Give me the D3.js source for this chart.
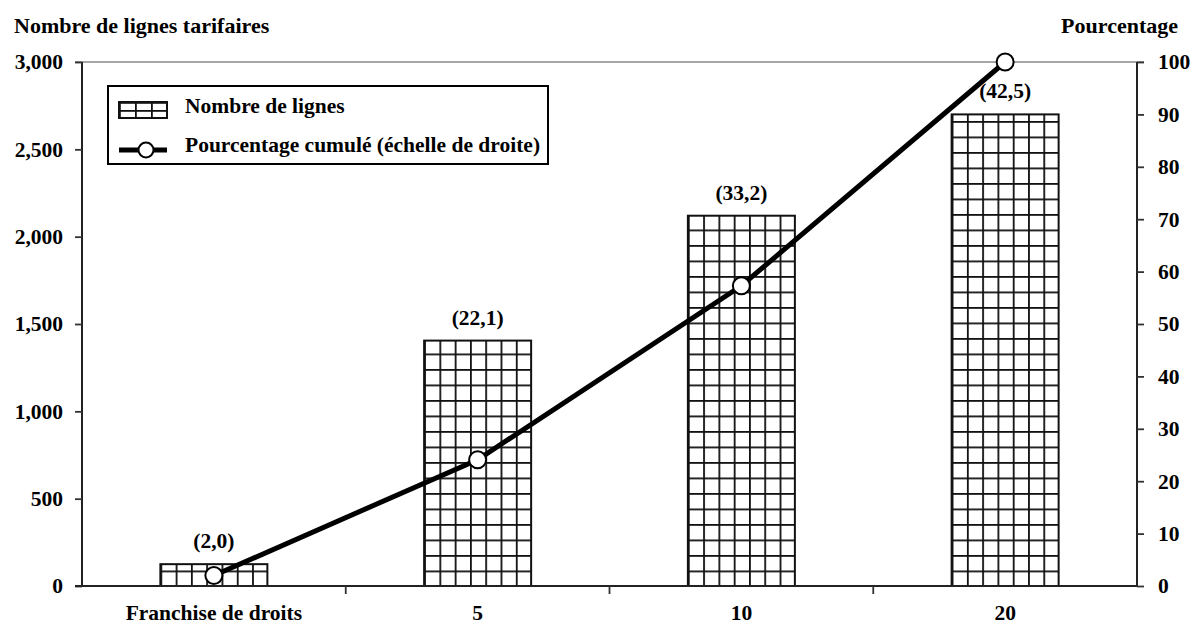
<!DOCTYPE html>
<html><head><meta charset="utf-8">
<script src="https://cdn.jsdelivr.net/npm/d3@7"></script>
<style>body{margin:0;background:#fff}svg text{font-family:"Liberation Serif","Times New Roman",serif;font-weight:bold;fill:#000}</style>
</head><body><svg id="c" width="1193" height="628"></svg>
<script>
const categories = ["Franchise de droits", "5", "10", "20"];
const lignes = [125, 1405, 2120, 2700];
const cumul = [2.0, 24.1, 57.3, 100];
const labels = ["(2,0)", "(22,1)", "(33,2)", "(42,5)"];
const leftTicks = [0, 500, 1000, 1500, 2000, 2500, 3000];
const rightTicks = [0,10,20,30,40,50,60,70,80,90,100];

const svg = d3.select("#c");
const L = 82, R = 1137, T = 62, B = 586;
const FS = 21.5;
const x = d3.scaleBand().domain(categories).range([L, R]);
const yL = d3.scaleLinear().domain([0, 3000]).range([B, T]);
const yR = d3.scaleLinear().domain([0, 100]).range([B, T]);
const barW = 107, cellW = barW / 7, cellH = 15.5;

const defs = svg.append("defs");
function makePattern(id, px, py, w, h) {
  const p = defs.append("pattern").attr("id", id).attr("patternUnits", "userSpaceOnUse")
    .attr("x", px).attr("y", py).attr("width", w).attr("height", h);
  p.append("rect").attr("width", w).attr("height", h).attr("fill", "#fff");
  p.append("line").attr("x1", 0).attr("x2", 0).attr("y1", 0).attr("y2", h).attr("stroke", "#111").attr("stroke-width", 3.6);
  p.append("line").attr("x1", 0).attr("x2", w).attr("y1", 0).attr("y2", 0).attr("stroke", "#111").attr("stroke-width", 3.6);
}

// top border
svg.append("line").attr("x1", L - 7).attr("x2", R + 7).attr("y1", T).attr("y2", T).attr("stroke", "#888").attr("stroke-width", 1.5);

// bars
categories.forEach((c, i) => {
  const bx = x(c) + x.bandwidth() / 2 - barW / 2;
  makePattern("pat" + i, bx, B, cellW, cellH);
  svg.append("rect").attr("x", bx).attr("y", yL(lignes[i])).attr("width", barW).attr("height", B - yL(lignes[i]))
    .attr("fill", `url(#pat${i})`).attr("stroke", "#111").attr("stroke-width", 2);
  svg.append("text").attr("x", x(c) + x.bandwidth() / 2).attr("y", yL(lignes[i]) - 16)
    .attr("text-anchor", "middle").attr("font-size", FS).text(labels[i]);
});

// axes
const axL = svg.append("g").attr("transform", `translate(${L},0)`).call(d3.axisLeft(yL).tickValues(leftTicks).tickSize(7).tickPadding(12).tickFormat(d3.format(",")));
const axR = svg.append("g").attr("transform", `translate(${R},0)`).call(d3.axisRight(yR).tickValues(rightTicks).tickSize(7).tickPadding(14));
const axB = svg.append("g").attr("transform", `translate(0,${B})`).call(d3.axisBottom(x).tickSize(0).tickPadding(19));
[axL, axR, axB].forEach(a => {
  a.select(".domain").attr("stroke", "#222").attr("stroke-width", 2);
  a.selectAll(".tick line").attr("stroke", "#333").attr("stroke-width", 1.8);
  a.selectAll("text").attr("font-size", FS).attr("font-family", "Liberation Serif").attr("font-weight", "bold").attr("fill", "#000");
});
axL.select(".domain").attr("d", `M0,${B}V${T}`);
axR.select(".domain").attr("d", `M0,${B}V${T}`);
axB.select(".domain").attr("d", `M${L - 7},0H${R}`);
// category boundary ticks
svg.selectAll(".btick").data(categories.slice(1)).enter().append("line")
  .attr("x1", d => x(d)).attr("x2", d => x(d)).attr("y1", B).attr("y2", B + 8)
  .attr("stroke", "#333").attr("stroke-width", 1.8);

// line
const pts = categories.map((c, i) => [x(c) + x.bandwidth() / 2, yR(cumul[i])]);
svg.append("path").attr("d", d3.line()(pts)).attr("fill", "none").attr("stroke", "#000").attr("stroke-width", 5);
svg.selectAll(".pt").data(pts).enter().append("circle").attr("cx", d => d[0]).attr("cy", d => d[1]).attr("r", 8.5)
  .attr("fill", "#fff").attr("stroke", "#000").attr("stroke-width", 2);

// titles
svg.append("text").attr("x", 14).attr("y", 33).attr("font-size", 22).text("Nombre de lignes tarifaires");
svg.append("text").attr("x", 1178).attr("y", 33).attr("text-anchor", "end").attr("font-size", 22).text("Pourcentage");

// legend
const lg = svg.append("g");
lg.append("rect").attr("x", 108).attr("y", 86).attr("width", 440).attr("height", 78).attr("fill", "#fff").attr("stroke", "#000").attr("stroke-width", 2);
makePattern("patLeg", 119, 102, 16, 8);
lg.append("rect").attr("x", 119).attr("y", 102).attr("width", 48).attr("height", 16).attr("fill", "url(#patLeg)").attr("stroke", "#111").attr("stroke-width", 2);
lg.append("text").attr("x", 185).attr("y", 113).attr("font-size", FS).text("Nombre de lignes");
lg.append("line").attr("x1", 119).attr("x2", 167).attr("y1", 150).attr("y2", 150).attr("stroke", "#000").attr("stroke-width", 5);
lg.append("circle").attr("cx", 146).attr("cy", 150).attr("r", 7.5).attr("fill", "#fff").attr("stroke", "#000").attr("stroke-width", 2);
lg.append("text").attr("x", 185).attr("y", 152).attr("font-size", FS).text("Pourcentage cumulé (échelle de droite)");
</script></body></html>
